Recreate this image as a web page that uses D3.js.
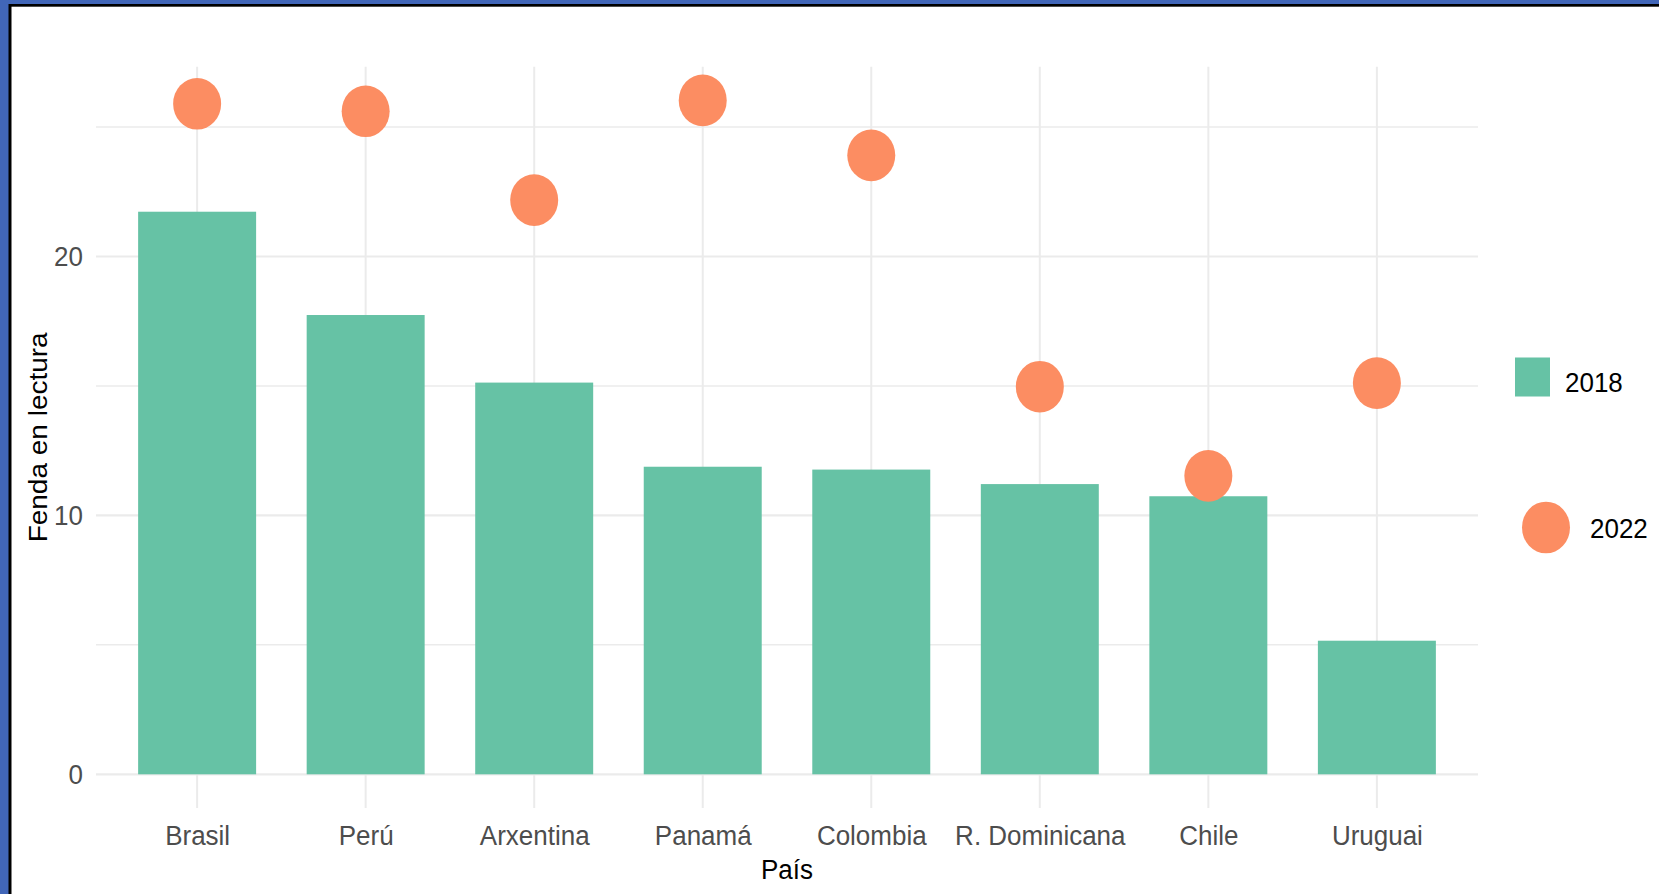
<!DOCTYPE html>
<html>
<head>
<meta charset="utf-8">
<script src="https://cdn.jsdelivr.net/npm/d3@7"></script>
<style>
  html, body { margin: 0; padding: 0; background: #ffffff; }
  svg { display: block; }
  text { font-family: "Liberation Sans", Arial, sans-serif; }
</style>
</head>
<body>
<svg id="chart" width="1659" height="894"></svg>
<script>
// ---- data ----
const categories = ["Brasil", "Perú", "Arxentina", "Panamá", "Colombia", "R. Dominicana", "Chile", "Uruguai"];
const values2018 = [21.73, 17.74, 15.13, 11.88, 11.77, 11.21, 10.74, 5.16];
const values2022 = [25.90, 25.61, 22.18, 26.03, 23.91, 14.97, 11.53, 15.11];
const yMajorTicks = [0, 10, 20];
const yMinorTicks = [5, 15, 25];
const seriesLabels = ["2018", "2022"];
const xTitle = "País";
const yTitle = "Fenda en lectura";

// ---- layout ----
const W = 1659, H = 894;
const SY = 1.077; // the reference is slightly stretched vertically
const colBar = "#66C2A5", colDot = "#FC8D62";
const gridCol = "#EBEBEB";
const panel = { left: 96, right: 1478, top: 66.7 / SY, bottom: 808 / SY };

const svg = d3.select("#chart");

// frame
svg.append("rect").attr("x", 0).attr("y", 0).attr("width", W).attr("height", H).attr("fill", "#4166B8");
svg.append("rect").attr("x", 8.5).attr("y", 4).attr("width", W).attr("height", H).attr("fill", "#000000");
svg.append("rect").attr("x", 11.5).attr("y", 6.7).attr("width", W).attr("height", H).attr("fill", "#ffffff");

const g = svg.append("g").attr("transform", `scale(1,${SY})`);

const x = d3.scalePoint().domain(categories).range([panel.left, panel.right]).padding(0.6);
const y = d3.scaleLinear().domain([-1.3015, 27.3315]).range([panel.bottom, panel.top]);
const bw = x.step() * 0.7;

// grid
const grid = g.append("g");
grid.selectAll("line.minor").data(yMinorTicks).join("line")
  .attr("x1", panel.left).attr("x2", panel.right)
  .attr("y1", d => y(d)).attr("y2", d => y(d))
  .attr("stroke", gridCol).attr("stroke-width", 1.4);
grid.selectAll("line.major").data(yMajorTicks).join("line")
  .attr("x1", panel.left).attr("x2", panel.right)
  .attr("y1", d => y(d)).attr("y2", d => y(d))
  .attr("stroke", gridCol).attr("stroke-width", 2);
grid.selectAll("line.vx").data(categories).join("line")
  .attr("x1", d => x(d)).attr("x2", d => x(d))
  .attr("y1", panel.top).attr("y2", panel.bottom)
  .attr("stroke", gridCol).attr("stroke-width", 2);

// bars
g.append("g").selectAll("rect").data(categories).join("rect")
  .attr("x", d => x(d) - bw / 2)
  .attr("width", bw)
  .attr("y", (d, i) => y(values2018[i]))
  .attr("height", (d, i) => y(0) - y(values2018[i]))
  .attr("fill", colBar);

// points
g.append("g").selectAll("circle").data(categories).join("circle")
  .attr("cx", d => x(d))
  .attr("cy", (d, i) => y(values2022[i]))
  .attr("r", 24)
  .attr("fill", colDot);

// axes
const yAxis = g.append("g").attr("transform", `translate(${panel.left},0)`)
  .call(d3.axisLeft(y).tickValues(yMajorTicks).tickSize(0).tickPadding(13).tickFormat(d3.format("d")));
yAxis.select(".domain").remove();
yAxis.selectAll("text").attr("font-size", 26).attr("fill", "#4D4D4D")
  .attr("font-family", "'Liberation Sans', Arial, sans-serif");

const xAxis = g.append("g").attr("transform", `translate(0,${panel.bottom})`)
  .call(d3.axisBottom(x).tickSize(0).tickPadding(15.9));
xAxis.select(".domain").remove();
xAxis.selectAll("text").attr("font-size", 26).attr("fill", "#4D4D4D")
  .attr("font-family", "'Liberation Sans', Arial, sans-serif");

// axis titles
g.append("text").attr("x", (panel.left + panel.right) / 2).attr("y", 879.3 / SY)
  .attr("text-anchor", "middle").attr("font-size", 26).attr("fill", "#000")
  .text(xTitle);
g.append("text")
  .attr("transform", `translate(46.5,${(panel.top + panel.bottom) / 2}) rotate(-90)`)
  .attr("text-anchor", "middle").attr("font-size", 26).attr("fill", "#000")
  .text(yTitle);

// legend
const leg = g.append("g");
leg.append("rect").attr("x", 1515).attr("y", 357.5 / SY).attr("width", 35).attr("height", 39 / SY)
  .attr("fill", colBar);
leg.append("text").attr("x", 1565).attr("y", 391.7 / SY).attr("font-size", 26).attr("fill", "#000")
  .text(seriesLabels[0]);
leg.append("circle").attr("cx", 1546).attr("cy", 527.5 / SY).attr("r", 24).attr("fill", colDot);
leg.append("text").attr("x", 1590).attr("y", 538.3 / SY).attr("font-size", 26).attr("fill", "#000")
  .text(seriesLabels[1]);
</script>
</body>
</html>
